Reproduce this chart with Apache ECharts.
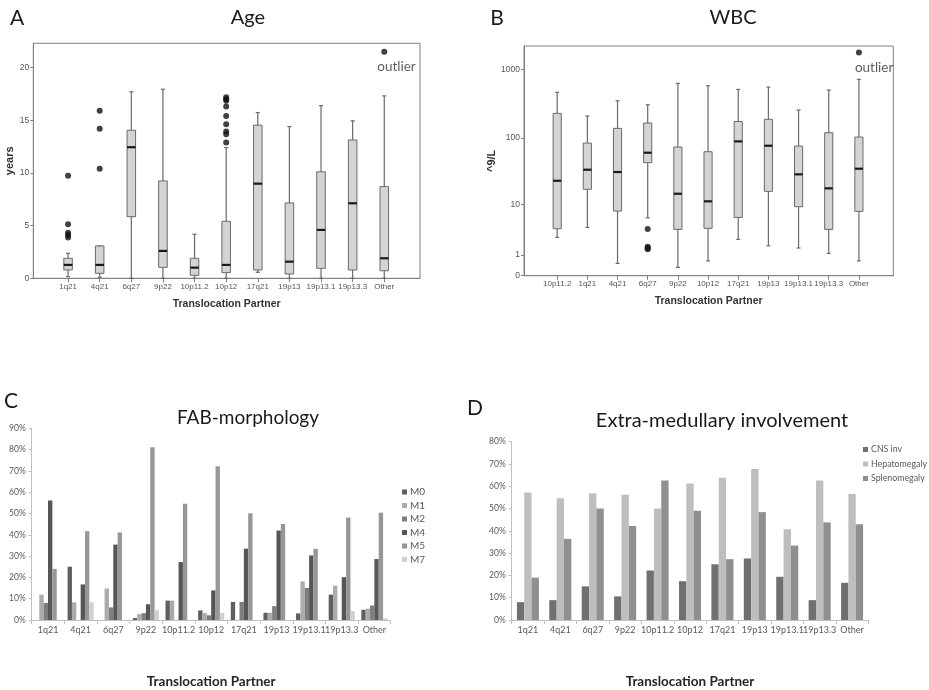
<!DOCTYPE html>
<html>
<head>
<meta charset="utf-8">
<script src="https://cdn.jsdelivr.net/npm/echarts@6/dist/echarts.min.js"></script>
<style>html,body{margin:0;padding:0;background:#fff}#c{width:929px;height:690px}</style>
</head>
<body>
<div id="c"></div>
<script>
// ---------- Panel A: Age (years) ----------
const catsA = ['1q21','4q21','6q27','9p22','10p11.2','10p12','17q21','19p13','19p13.1','19p13.3','Other'];
const ageMin = [0.15, 0.1, 0, 0, 0, 0, 0.57, 0, 0, 0, 0];
const ageQ1  = [0.79, 0.47, 5.85, 1.04, 0.28, 0.54, 0.79, 0.41, 0.95, 0.79, 0.72];
const ageMed = [1.27, 1.27, 12.44, 2.6, 1.01, 1.27, 8.98, 1.58, 4.59, 7.12, 1.9];
const ageQ3  = [1.9, 3.07, 14.05, 9.24, 1.9, 5.41, 14.53, 7.15, 10.1, 13.13, 8.7];
const ageMax = [2.37, 3.07, 17.7, 17.94, 4.18, 12.4, 15.73, 14.4, 16.39, 14.94, 17.31];
const ageOutliers = [
  ['1q21', 9.72], ['1q21', 5.13], ['1q21', 4.33], ['1q21', 4.1], ['1q21', 3.86],
  ['4q21', 15.9], ['4q21', 14.2], ['4q21', 10.4],
  ['10p12', 17.19], ['10p12', 17.0], ['10p12', 16.84], ['10p12', 16.3], ['10p12', 15.41],
  ['10p12', 14.62], ['10p12', 13.92], ['10p12', 13.68], ['10p12', 12.88]
];
const ageExtreme = [['Other', 21.5]];

// ---------- Panel B: WBC (10^9/L) ----------
const catsB = ['10p11.2','1q21','4q21','6q27','9p22','10p12','17q21','19p13','19p13.1','19p13.3','Other'];
const wbcMin = [2.61, 4.05, 0.51, 5.98, 0.32, 0.64, 2.38, 1.73, 1.53, 1.11, 0.64];
const wbcQ1  = [3.83, 17.1, 7.73, 43.2, 3.72, 3.89, 6.06, 15.9, 9.1, 3.72, 7.63];
const wbcMed = [23.1, 33.9, 31.3, 60.7, 14.6, 11.1, 89.2, 77, 28.9, 17.7, 35.1];
const wbcQ3  = [230, 84.3, 138.6, 166, 73.6, 62.8, 175, 188, 76.1, 119.6, 103.3];
const wbcMax = [466, 210, 351, 307, 630, 582, 514, 556, 257, 503, 720];
const wbcOutliers = [['6q27', 3.78], ['6q27', 1.64], ['6q27', 1.53], ['6q27', 1.42]];
const wbcExtreme = [['Other', 1781]];
const wbcTicks = [0, 1, 10, 100, 1000];

// ---------- Panel C: FAB morphology (%) ----------
const catsCD = ['1q21','4q21','6q27','9p22','10p11.2','10p12','17q21','19p13','19p13.1','19p13.3','Other'];
const fabNames = ['M0','M1','M2','M4','M5','M7'];
const fabM0 = [0, 25.0, 0, 0.9, 9.1, 4.5, 8.5, 3.4, 3.1, 11.9, 4.8];
const fabM1 = [11.9, 8.3, 14.8, 2.8, 9.1, 3.2, 0, 3.4, 18.1, 16.1, 5.3];
const fabM2 = [8.0, 0, 5.9, 3.2, 0, 2.2, 8.5, 6.5, 15.1, 0, 6.8];
const fabM4 = [56.1, 16.7, 35.4, 7.4, 27.2, 13.9, 33.5, 42.0, 30.3, 20.1, 28.6];
const fabM5 = [24.0, 41.7, 41.1, 81.1, 54.6, 72.2, 50.1, 45.1, 33.4, 48.1, 50.4];
const fabM7 = [0, 8.3, 0, 4.6, 0, 3.3, 0, 0, 0, 4.2, 0.8];

// ---------- Panel D: Extra-medullary involvement (%) ----------
const emNames = ['CNS inv','Hepatomegaly','Splenomegaly'];
const emCNS = [8.0, 8.9, 15.1, 10.6, 22.2, 17.4, 25.0, 27.6, 19.4, 8.9, 16.7];
const emHep = [57.2, 54.6, 56.8, 56.2, 50.0, 61.2, 63.8, 67.8, 40.7, 62.6, 56.6];
const emSpl = [19.0, 36.4, 50.0, 42.2, 62.6, 49.0, 27.3, 48.4, 33.4, 43.8, 43.0];

// ---------- helpers ----------
const tf = v => Math.log10(v + 1);
const idx = [0,1,2,3,4,5,6,7,8,9,10];
const boxData = (mn, q1, md, q3, mx, f) => idx.map(i => [i, f(mn[i]), f(q1[i]), f(md[i]), f(q3[i]), f(mx[i])]);
const ptData = (list, cats, f) => list.map(([c, v]) => [cats.indexOf(c), f(v)]);
const id = v => v;

function renderBox(params, api) {
  const x = api.value(0);
  const band = api.size([1, 0])[0];
  const bw = band * 0.27, cw = band * 0.13;
  const pMin = api.coord([x, api.value(1)]);
  const pQ1 = api.coord([x, api.value(2)]);
  const pMed = api.coord([x, api.value(3)]);
  const pQ3 = api.coord([x, api.value(4)]);
  const pMax = api.coord([x, api.value(5)]);
  const cx = pMin[0];
  const ws = { stroke: '#6a6a6a', lineWidth: 1.2 };
  return {
    type: 'group',
    children: [
      { type: 'line', shape: { x1: cx, y1: pMin[1], x2: cx, y2: pQ1[1] }, style: ws },
      { type: 'line', shape: { x1: cx, y1: pQ3[1], x2: cx, y2: pMax[1] }, style: ws },
      { type: 'line', shape: { x1: cx - cw / 2, y1: pMin[1], x2: cx + cw / 2, y2: pMin[1] }, style: ws },
      { type: 'line', shape: { x1: cx - cw / 2, y1: pMax[1], x2: cx + cw / 2, y2: pMax[1] }, style: ws },
      { type: 'rect', shape: { x: cx - bw / 2, y: pQ3[1], width: bw, height: pQ1[1] - pQ3[1] },
        style: { fill: '#d4d4d4', stroke: '#6a6a6a', lineWidth: 1 } },
      { type: 'line', shape: { x1: cx - bw / 2, y1: pMed[1], x2: cx + bw / 2, y2: pMed[1] },
        style: { stroke: '#1a1a1a', lineWidth: 2.2 } }
    ]
  };
}

const chart = echarts.init(document.getElementById('c'), null, { renderer: 'canvas' });
const FA = 'Liberation Sans, Arial, sans-serif';
const FL = 'Lato, sans-serif';

const spssX = (gi, cats, mx) => ({
  gridIndex: gi, type: 'value', min: -1.1, max: mx,
  name: 'Translocation Partner', nameLocation: 'middle', nameGap: 20,
  nameTextStyle: { fontFamily: FA, fontWeight: 'bold', fontSize: 10.5, color: '#333' },
  axisLine: { show: true, onZero: false, lineStyle: { color: '#808080' } },
  axisTick: { show: true, length: 4, customValues: idx, lineStyle: { color: '#808080' } },
  axisLabel: { customValues: idx, formatter: v => cats[Math.round(v)], fontFamily: FA, fontSize: 8, color: '#555', margin: 4 },
  splitLine: { show: false }
});

const excelX = (gi) => ({
  gridIndex: gi, type: 'category', data: catsCD, boundaryGap: true,
  name: 'Translocation Partner', nameLocation: 'middle', nameGap: 55,
  nameTextStyle: { fontFamily: FL, fontWeight: 'bold', fontSize: 13.5, color: '#262626' },
  axisLine: { show: true, onZero: false, lineStyle: { color: '#c0c0c0' } },
  axisTick: { show: true, length: 4, lineStyle: { color: '#c0c0c0' } },
  axisLabel: { fontFamily: FL, fontSize: 9, color: '#595959', margin: 6, interval: 0 },
  splitLine: { show: false }
});

const excelY = (gi, mx) => ({
  gridIndex: gi, type: 'value', min: 0, max: mx, interval: 10,
  axisLine: { show: true, onZero: false, lineStyle: { color: '#c0c0c0' } },
  axisTick: { show: true, length: 3, lineStyle: { color: '#c0c0c0' } },
  axisLabel: { formatter: '{value}%', fontFamily: FL, fontSize: 8.5, color: '#595959', margin: 6 },
  splitLine: { show: false }
});

const fabColors = ['#5f5f5f', '#ababab', '#7e7e7e', '#565656', '#979797', '#d0d0d0'];
const fabData = [fabM0, fabM1, fabM2, fabM4, fabM5, fabM7];
const emColors = ['#707070', '#bebebe', '#8f8f8f'];
const emData = [emCNS, emHep, emSpl];

const txt = (text, x, y, size, extra) => ({
  type: 'text', x: x, y: y, silent: true,
  style: Object.assign({ text: text, fontFamily: FL, fontSize: size, fill: '#1a1a1a', align: 'center', verticalAlign: 'middle' }, extra || {})
});

const option = {
  animation: false,
  backgroundColor: '#fff',
  graphic: [
    txt('A', 17, 18, 21),
    txt('Age', 248, 18, 20),
    txt('B', 497, 18, 21),
    txt('WBC', 733, 18, 20),
    txt('C', 11, 401, 21),
    txt('FAB-morphology', 248, 418, 19),
    txt('D', 475, 408, 21),
    txt('Extra-medullary involvement', 722, 421, 20)
  ],
  grid: [
    { left: 33.3, top: 43.3, width: 386.7, height: 235, show: true, borderColor: '#808080', borderWidth: 1, backgroundColor: 'transparent' },
    { left: 524, top: 46, width: 369.3, height: 229.7, show: true, borderColor: '#808080', borderWidth: 1, backgroundColor: 'transparent' },
    { left: 31.7, top: 428.3, width: 359, height: 194 },
    { left: 511.7, top: 441.7, width: 356.6, height: 180.6 }
  ],
  xAxis: [
    spssX(0, catsA, 11.13),
    spssX(1, catsB, 11.14),
    excelX(2),
    excelX(3)
  ],
  yAxis: [
    { gridIndex: 0, type: 'value', min: 0, max: 22.3,
      name: 'years', nameLocation: 'middle', nameGap: 17, nameRotate: 90,
      nameTextStyle: { fontFamily: FA, fontWeight: 'bold', fontSize: 11, color: '#333' },
      axisLine: { show: true, onZero: false, lineStyle: { color: '#808080' } },
      axisTick: { show: true, length: 3, customValues: [0, 5, 10, 15, 20], lineStyle: { color: '#808080' } },
      axisLabel: { customValues: [0, 5, 10, 15, 20], fontFamily: FA, fontSize: 8.5, color: '#555', margin: 4 },
      splitLine: { show: false } },
    { gridIndex: 1, type: 'value', min: 0, max: 3.344,
      name: '^9/L', nameLocation: 'middle', nameGap: 27, nameRotate: 90,
      nameTextStyle: { fontFamily: FA, fontWeight: 'bold', fontSize: 11, color: '#333' },
      axisLine: { show: true, onZero: false, lineStyle: { color: '#808080' } },
      axisTick: { show: true, length: 3, customValues: wbcTicks.map(tf), lineStyle: { color: '#808080' } },
      axisLabel: { customValues: wbcTicks.map(tf), formatter: v => String(Math.round(Math.pow(10, v) - 1)),
        fontFamily: FA, fontSize: 8.5, color: '#555', margin: 4 },
      splitLine: { show: false } },
    excelY(2, 90),
    excelY(3, 80)
  ],
  legend: [
    { data: fabNames, orient: 'vertical', left: 402, top: 487, padding: 0, itemGap: 3.5,
      itemWidth: 5, itemHeight: 5, icon: 'rect', selectedMode: false,
      textStyle: { fontFamily: FL, fontSize: 10, color: '#595959', padding: [0, 0, 0, -2] } },
    { data: emNames, orient: 'vertical', left: 863, top: 445, padding: 0, itemGap: 5.5,
      itemWidth: 5, itemHeight: 5, icon: 'rect', selectedMode: false,
      textStyle: { fontFamily: FL, fontSize: 8.8, color: '#595959', padding: [0, 0, 0, -2] } }
  ],
  series: [
    { type: 'custom', name: 'Age', xAxisIndex: 0, yAxisIndex: 0, renderItem: renderBox,
      encode: { x: 0, y: [1, 2, 3, 4, 5] }, data: boxData(ageMin, ageQ1, ageMed, ageQ3, ageMax, id), z: 3 },
    { type: 'scatter', name: 'AgeOut', xAxisIndex: 0, yAxisIndex: 0, symbolSize: 6,
      itemStyle: { color: '#111' }, data: ptData(ageOutliers, catsA, id), z: 4 },
    { type: 'scatter', name: 'AgeExt', xAxisIndex: 0, yAxisIndex: 0, symbolSize: 6,
      itemStyle: { color: '#111' }, data: ptData(ageExtreme, catsA, id), z: 4,
      label: { show: true, formatter: 'outlier', position: 'bottom', distance: 5, align: 'left', offset: [-7, 0],
        fontFamily: FL, fontSize: 13.5, color: '#333' } },
    { type: 'custom', name: 'WBC', xAxisIndex: 1, yAxisIndex: 1, renderItem: renderBox,
      encode: { x: 0, y: [1, 2, 3, 4, 5] }, data: boxData(wbcMin, wbcQ1, wbcMed, wbcQ3, wbcMax, tf), z: 3 },
    { type: 'scatter', name: 'WBCOut', xAxisIndex: 1, yAxisIndex: 1, symbolSize: 6,
      itemStyle: { color: '#111' }, data: ptData(wbcOutliers, catsB, tf), z: 4 },
    { type: 'scatter', name: 'WBCExt', xAxisIndex: 1, yAxisIndex: 1, symbolSize: 6,
      itemStyle: { color: '#111' }, data: ptData(wbcExtreme, catsB, tf), z: 4,
      label: { show: true, formatter: 'outlier', position: 'bottom', distance: 5, align: 'left', offset: [-4, 0],
        fontFamily: FL, fontSize: 13.5, color: '#333' } }
  ].concat(
    fabNames.map((n, k) => ({
      type: 'bar', name: n, xAxisIndex: 2, yAxisIndex: 2, data: fabData[k],
      barGap: '0%', barCategoryGap: '20%', itemStyle: { color: fabColors[k] }
    })),
    emNames.map((n, k) => ({
      type: 'bar', name: n, xAxisIndex: 3, yAxisIndex: 3, data: emData[k],
      barGap: '0%', barCategoryGap: '32%', itemStyle: { color: emColors[k] }
    }))
  )
};
chart.setOption(option);
</script>
</body>
</html>
